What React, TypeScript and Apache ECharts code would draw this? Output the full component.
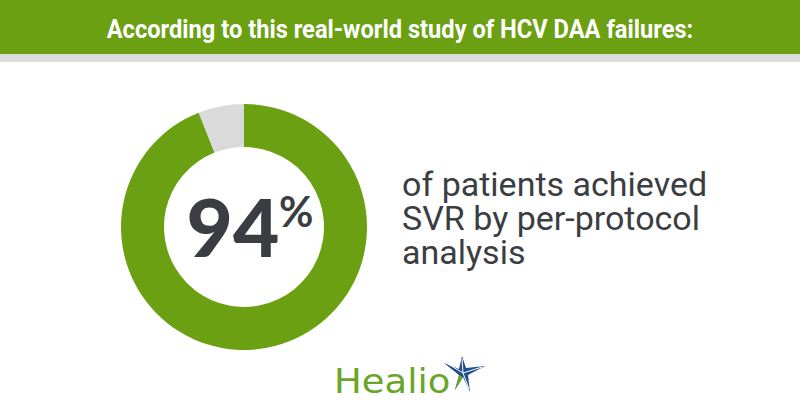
import React, { useEffect, useRef } from "react";
import * as echarts from "echarts";

const headline = "According to this real-world study of HCV DAA failures:";
const sliceNames = ["Achieved SVR", "Did not achieve SVR"];
const sliceValues = [94, 6];
const bigValue = "94";
const descLines = ["of patients achieved", "SVR by per-protocol", "analysis"];

const GREEN = "#6aa011";
const GREY = "#dadada";
const DARK = "#3a3e42";

export default function App() {
  const ref = useRef<HTMLDivElement>(null);
  useEffect(() => {
    if (!ref.current) return;
    const chart = echarts.init(ref.current, null, { renderer: "svg", width: 800, height: 420 });
    chart.setOption({
      animation: false,
      backgroundColor: "#ffffff",
      series: [
        {
          type: "pie",
          center: [244, 227],
          radius: [80, 123],
          startAngle: 90,
          clockwise: true,
          label: { show: false },
          labelLine: { show: false },
          silent: true,
          data: sliceNames.map((n, i) => ({
            name: n,
            value: sliceValues[i],
            itemStyle: { color: i === 0 ? GREEN : GREY },
          })),
        },
      ],
      graphic: [
        { type: "rect", shape: { x: 0, y: 0, width: 800, height: 54 }, style: { fill: GREEN } },
        { type: "rect", shape: { x: 0, y: 54, width: 800, height: 8 }, style: { fill: "#dcdcdc" } },
        {
          type: "text",
          x: 400,
          y: 29,
          scaleX: 0.91,
          originX: 0,
          style: {
            text: headline,
            fill: "#ffffff",
            font: "bold 26px Roboto",
            align: "center",
            verticalAlign: "middle",
          },
        },
        {
          type: "text",
          x: 233,
          y: 226,
          style: {
            text: bigValue,
            fill: DARK,
            font: "900 80px Lato",
            align: "center",
            verticalAlign: "middle",
          },
        },
        {
          type: "text",
          x: 279,
          y: 190,
          style: {
            text: "%",
            fill: DARK,
            font: "bold 42px Lato",
            align: "left",
            verticalAlign: "top",
          },
        },
        {
          type: "text",
          x: 402,
          y: 167,
          style: {
            text: descLines.join("\n"),
            fill: DARK,
            font: "34px Roboto",
            lineHeight: 34,
            align: "left",
            verticalAlign: "top",
          },
        },
        {
          type: "text",
          x: 334,
          y: 381,
          scaleX: 1.12,
          style: {
            text: "Healio",
            fill: "#6aa52a",
            font: "33px 'DejaVu Sans'",
            align: "left",
            verticalAlign: "middle",
          },
        },
        {
          type: "polygon",
          shape: {
            points: [
              [444, 363], [459, 369], [462, 356], [466, 368], [485, 366],
              [468, 375], [470, 392], [463, 377], [455, 390], [459, 375],
            ],
          },
          style: { fill: "#1f4f8f" },
        },
        {
          type: "polygon",
          shape: { points: [[455, 390], [459, 375], [463, 377]] },
          style: { fill: "#6aa52a" },
        },
        {
          type: "polyline",
          shape: { points: [[448, 364], [463, 373], [482, 367]] },
          style: { stroke: "#ffffff", lineWidth: 1, fill: "none" },
        },
        {
          type: "polyline",
          shape: { points: [[462, 359], [463, 373], [469, 389]] },
          style: { stroke: "#ffffff", lineWidth: 1, fill: "none" },
        },
      ],
    });
    return () => chart.dispose();
  }, []);
  return <div ref={ref} style={{ width: 800, height: 420, position: "absolute", left: 0, top: 0 }} />;
}
